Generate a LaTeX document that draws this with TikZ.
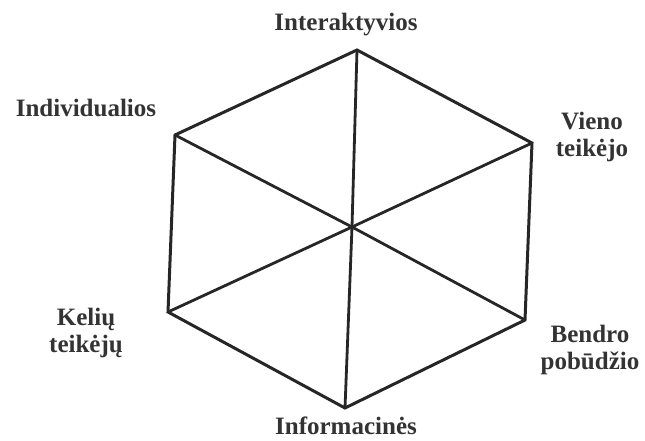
\documentclass[tikz,border=0pt]{standalone}
\usepackage{fontspec}
\setmainfont{Liberation Serif}
\usetikzlibrary{positioning, calc}

\begin{document}
\begin{tikzpicture}[
    x=1pt, y=-1pt,
    side/.style={draw=black!85, line width=3pt, line join=miter},
    spoke/.style={draw=black!85, line width=2.8pt},
    corner/.style={font=\fontsize{25}{27}\selectfont\bfseries, text=black!80, align=center, inner sep=0pt}
]
\useasboundingbox (0,0) rectangle (645,441);

% =================== HEXAGON CORNERS ===================
\coordinate (top) at (357,50);
\coordinate (ur)  at (532,143);
\coordinate (lr)  at (525,320);
\coordinate (bot) at (345,408);
\coordinate (ll)  at (168,312);
\coordinate (ul)  at (175,135);
\coordinate (mid) at (352,227);

% Outline
\draw[side] (top) -- (ur) -- (lr) -- (bot) -- (ll) -- (ul) -- cycle;

% Spokes through the middle
\draw[spoke] (top) -- (mid) -- (bot);
\draw[spoke] (ul) -- (mid) -- (lr);
\draw[spoke] (ur) -- (mid) -- (ll);


% =================== CORNER TEXTS ===================
\node[corner] (inter) at (346,25)  {Interaktyvios};
\node[corner] (indiv) at (86,108)  {Individualios};
\node[corner] (vien)  at (592,137) {Vieno\\teikėjo};
\node[corner] (keli)  at (86,333)  {Kelių\\teikėjų};
\node[corner] (bend)  at (590,350) {Bendro\\pobūdžio};
\node[corner] (info)  at (346,426) {Informacinės};

\end{tikzpicture}
\end{document}
